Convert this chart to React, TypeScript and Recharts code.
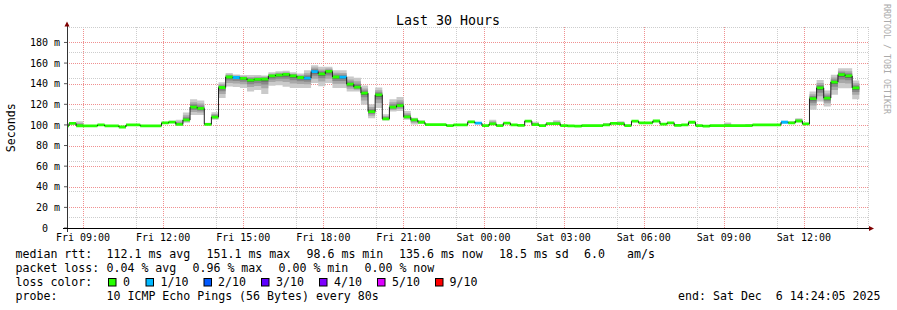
import React from 'react';
import { ComposedChart, Area, Line, XAxis, YAxis, CartesianGrid } from 'recharts';

// time in minutes since Fri 00:00
const T_START = 504; // Fri 08:24
const T_END = 2304; // Sat 14:24
const STEP_START = 508.5; // first full consolidation step boundary
const STEP_LEN = 16; // minutes per step
const Y_MAX = 195;

// median rtt per step (ms)
const median = [
  99, 101.5, 99.2, 99, 99, 100, 99, 99, 98, 100,
  100, 99, 99, 99, 102, 102.8, 100.5, 104.8, 117.3, 116,
  100.6, 107.6, 136.3, 146.5, 146, 145.2, 143.5, 144.2, 144.5, 147.5,
  148.4, 149, 147.6, 146, 145.4, 151.8, 149.6, 151.9, 146.5, 146.4,
  139.5, 136.7, 130.8, 113, 129.2, 105.9, 117.2, 118.8, 107.8, 104.9,
  102.6, 100.3, 100.3, 100.3, 99.3, 100, 100, 103, 101.7, 99.4,
  101, 99.4, 101.7, 100, 99.5, 103.7, 100.3, 99.4, 101.3, 101.2,
  99.4, 99, 98.8, 99.4, 99.4, 99.4, 100, 101.5, 101.2, 99.4,
  103.6, 102, 102, 103.8, 100.8, 102, 99.6, 100, 102.6, 99.4,
  98.8, 99.4, 99.4, 99.4, 99.4, 99.4, 99.4, 100, 100, 100,
  100, 102.6, 102, 103.8, 101, 125.5, 136, 126, 141.6, 148.8,
  147.5, 136,
];

// lowest ping per step (ms)
const smokeLo = [
  98.5, 100.5, 98.5, 98.5, 98.5, 99.2, 98.5, 98.5, 97.3, 99.2,
  99.2, 98.5, 98.5, 98.5, 101, 101.8, 99.5, 102, 109.7, 109.7,
  99.6, 104.9, 126, 137.2, 136.7, 135.8, 132.5, 134, 130, 138,
  138.5, 137, 135.8, 135.8, 135.8, 140.6, 137.5, 140.6, 135.8, 135.8,
  132.4, 132.4, 119.5, 106.5, 116.3, 104.2, 113, 113.5, 105, 100.5,
  101.5, 99.6, 99.6, 99.6, 98.6, 99.3, 99.3, 102, 100.8, 98.7,
  100, 98.7, 100.8, 99.3, 98.7, 102.8, 99.5, 98.7, 100.5, 100.4,
  98.7, 98.3, 98, 98.7, 98.7, 98.7, 99.2, 100.7, 100.4, 98.7,
  102.7, 101.2, 101.2, 103, 100, 101.2, 98.8, 99.2, 101.8, 98.7,
  98, 98.7, 98.7, 98.7, 98.7, 98.7, 98.7, 99.2, 99.2, 99.2,
  99.2, 101.8, 101.2, 102.8, 100, 114.6, 122.7, 117.8, 129.2, 135.7,
  135.7, 125,
];

// highest ping per step (ms)
const smokeHi = [
  100, 102.5, 103.5, 99.8, 99.8, 100.8, 99.8, 99.8, 99, 100.8,
  100.8, 99.8, 99.8, 99.8, 103, 104, 105, 112, 125, 123.6,
  102, 112.4, 141.5, 150.3, 149, 148.4, 148.4, 148.4, 148, 151,
  152, 152.5, 151, 150, 153, 158, 156.5, 156.5, 153, 153,
  147, 145.7, 138.2, 120, 136.3, 110.4, 125, 127, 113.6, 107,
  104.5, 101, 101, 101, 100, 100.8, 100.8, 104, 102.6, 100.2,
  105, 100.2, 102.6, 100.8, 100.3, 104.6, 103, 100.2, 102.2, 104.5,
  100.2, 99.8, 99.6, 100.2, 100.2, 100.2, 101.8, 102.4, 103.5, 100.2,
  104.5, 102.8, 102.8, 104.7, 101.6, 102.8, 100.4, 100.8, 103.5, 100.2,
  99.6, 100.2, 100.2, 102.3, 100.2, 100.2, 101, 100.8, 100.8, 100.8,
  100.8, 104, 103.5, 106.5, 102, 132.4, 143.7, 133.4, 148.6, 155,
  155, 143,
];

// lost pings (out of 10) per step
const lostPings = [
  0, 0, 0, 0, 0, 0, 0, 0, 0, 0,
  0, 0, 0, 0, 0, 0, 0, 0, 0, 0,
  0, 0, 0, 0, 1, 0, 0, 0, 0, 0,
  0, 0, 0, 0, 1, 1, 0, 0, 0, 1,
  0, 0, 0, 0, 0, 0, 0, 0, 0, 0,
  0, 0, 0, 0, 0, 0, 0, 0, 1, 0,
  0, 0, 0, 0, 0, 0, 0, 0, 0, 0,
  0, 0, 0, 0, 0, 0, 0, 0, 0, 0,
  0, 0, 0, 0, 0, 0, 0, 0, 0, 0,
  0, 0, 0, 0, 0, 0, 0, 0, 0, 0,
  0, 1, 0, 0, 0, 0, 0, 0, 0, 0,
  0, 0,
];

const lossLevels = [0, 1, 2, 3, 4, 5, 9];
const lossLabels = ['0', '1/10', '2/10', '3/10', '4/10', '5/10', '9/10'];
const lossColors = ['#26ff00', '#00b8ff', '#0059ff', '#5e00ff', '#7e00ff', '#dd00ff', '#ff0000'];

const timeTicks = [540, 720, 900, 1080, 1260, 1440, 1620, 1800, 1980, 2160];
const timeLabels = ['Fri 09:00', 'Fri 12:00', 'Fri 15:00', 'Fri 18:00', 'Fri 21:00', 'Sat 00:00', 'Sat 03:00', 'Sat 06:00', 'Sat 09:00', 'Sat 12:00'];
const hourTicks = [
  600, 660, 780, 840, 960, 1020, 1140, 1200, 1320, 1380,
  1500, 1560, 1680, 1740, 1860, 1920, 2040, 2100, 2220, 2280,
];
const valueTicks = [0, 20, 40, 60, 80, 100, 120, 140, 160, 180];
const valueLabels = ['0', '20 m', '40 m', '60 m', '80 m', '100 m', '120 m', '140 m', '160 m', '180 m'];
const minorValueTicks = [
  5, 10, 15, 25, 30, 35, 45, 50, 55, 65, 70, 75, 85, 90, 95,
  105, 110, 115, 125, 130, 135, 145, 150, 155, 165, 170, 175, 185, 190, 195,
];

const statLines = [
  [[16, 'median rtt:'], [107, '112.1 ms avg'], [207, '151.1 ms max'], [307, '98.6 ms min'], [399.5, '135.6 ms now'], [499.5, '18.5 ms sd'], [584.5, '6.0'], [627.5, 'am/s']],
  [[16, 'packet loss:'], [107, '0.04 % avg'], [193, '0.96 % max'], [279, '0.00 % min'], [365, '0.00 % now']],
];
const probeText = '10 ICMP Echo Pings (56 Bytes) every 80s';
const endText = 'end: Sat Dec  6 14:24:05 2025';

// visual styling of smoke (fraction of spread, grey)
const SMOKE_LAYERS = [1, 0.62, 0.36, 0.16];
const SMOKE_GREYS = ['#cacaca', '#a8a8a8', '#888888', '#5c5c5c'];
const BAND = 1.35;
const MAJOR_GRID = '#f09090';
const MINOR_GRID = '#cdcdcd';
const PLOT = { left: 67, right: 868, top: 27, bottom: 228 };

// each step: start row, mid row (breaks the black median so only the
// vertical transitions are drawn in black), end row
const rows: any[] = [];
for (let i = 0; i < median.length; i++) {
  const start = i === 0 ? T_START : STEP_START + (i - 1) * STEP_LEN;
  const end = STEP_START + i * STEP_LEN;
  const m = median[i];
  const lo = smokeLo[i];
  const hi = smokeHi[i];
  const base: any = {};
  SMOKE_LAYERS.forEach((f, j) => {
    base['s' + j] = [m - (m - lo) * f, m + (hi - m) * f];
  });
  lossLevels.forEach((lv, c) => {
    base['b' + c] = lostPings[i] === lv ? [m - BAND, m + BAND] : null;
  });
  rows.push({ t: start, ...base, med: m });
  rows.push({ t: (start + end) / 2, ...base, med: null });
  rows.push({ t: end, ...base, med: m });
}

const FONT = "'DejaVu Sans Mono', monospace";

// same linear mapping as the chart's axes, used for the major grid underlay
const gridX = (t: number) => Math.round(PLOT.left + ((t - T_START) / (T_END - T_START)) * (PLOT.right - PLOT.left)) + 0.5;
const gridY = (v: number) => Math.round(PLOT.bottom - (v / Y_MAX) * (PLOT.bottom - PLOT.top)) + 0.5;

const XTick = (p: any) => {
  const { x, index } = p;
  return (
    <text x={x} y={241} textAnchor="middle" fontFamily={FONT} fontSize={10} fill="#000">
      {timeLabels[index]}
    </text>
  );
};

const YTick = (p: any) => {
  const { y, index } = p;
  const label = valueLabels[index];
  return (
    <text x={60} y={y} dy={3.6} textAnchor="end" fontFamily={FONT} fontSize={10} fill="#000">
      {label.includes('m') ? label : label + '\u00a0\u00a0'}
    </text>
  );
};

export default function App() {
  const boxX = [108.5, 146, 204, 261.5, 319.5, 377.5, 435.5];
  const labX = [123, 160.5, 218, 276, 334, 392, 449.5];
  return (
    <div style={{ position: 'absolute', left: 0, top: 0, width: 897, height: 310, background: '#fff' }}>
      <svg width={897} height={310} style={{ position: 'absolute', left: 0, top: 0 }}>
        {timeTicks.map((t) => (
          <path key={'gx' + t} d={`M${gridX(t)},${PLOT.top}V${PLOT.bottom}`} stroke={MAJOR_GRID} strokeWidth={1} strokeDasharray="1 1" fill="none" />
        ))}
        {valueTicks.filter((v) => v > 0).map((v) => (
          <path key={'gy' + v} d={`M${PLOT.left},${gridY(v)}H${PLOT.right}`} stroke={MAJOR_GRID} strokeWidth={1} strokeDasharray="1 1" fill="none" />
        ))}
      </svg>
      <div style={{ position: 'absolute', left: 0, top: 0 }}>
        <ComposedChart width={897} height={310} data={rows} margin={{ top: 27, right: 29, bottom: 62, left: 0 }}>
          <XAxis xAxisId="minor" dataKey="t" type="number" domain={[T_START, T_END]} ticks={hourTicks} allowDataOverflow hide />
          <YAxis yAxisId="minor" type="number" domain={[0, Y_MAX]} ticks={minorValueTicks} allowDataOverflow hide />
          <CartesianGrid xAxisId="minor" yAxisId="minor" stroke={MINOR_GRID} strokeDasharray="1 1" shapeRendering="crispEdges" />
          <XAxis
            dataKey="t"
            type="number"
            domain={[T_START, T_END]}
            ticks={timeTicks}
            interval={0}
            allowDataOverflow
            height={20}
            axisLine={false}
            tickLine={false}
            tick={<XTick />}
          />
          <YAxis
            type="number"
            domain={[0, Y_MAX]}
            ticks={valueTicks}
            interval={0}
            allowDataOverflow
            width={67}
            axisLine={false}
            tickSize={3}
            tickMargin={4}
            tickLine={{ stroke: '#555' }}
            tick={<YTick />}
          />
          {SMOKE_LAYERS.map((_, j) => (
            <Area
              key={'s' + j}
              dataKey={'s' + j}
              type="linear"
              stroke="none"
              fill={SMOKE_GREYS[j]}
              fillOpacity={1}
              isAnimationActive={false}
              dot={false}
              activeDot={false}
            />
          ))}
          <Line dataKey="med" type="linear" stroke="#202020" strokeWidth={1} dot={false} activeDot={false} isAnimationActive={false} />
          {lossColors.map((col, c) => (
            <Area
              key={'b' + c}
              dataKey={'b' + c}
              type="linear"
              stroke="none"
              fill={col}
              fillOpacity={1}
              isAnimationActive={false}
              dot={false}
              activeDot={false}
            />
          ))}
        </ComposedChart>
      </div>
      <svg width={897} height={310} style={{ position: 'absolute', left: 0, top: 0, pointerEvents: 'none' }}>
        <line x1={67} y1={232} x2={67} y2={26} stroke="#333" strokeWidth={1} shapeRendering="crispEdges" />
        <line x1={63} y1={228.5} x2={870} y2={228.5} stroke="#000" strokeWidth={1} shapeRendering="crispEdges" />
        <polygon points="64.5,26.5 69.5,26.5 67,21.5" fill="#7f0000" />
        <polygon points="869,226 869,231 874,228.5" fill="#7f0000" />
        <text x={448} y={25} textAnchor="middle" fontFamily={FONT} fontSize={13.3} fill="#000">Last 30 Hours</text>
        <text x={15} y={127.8} textAnchor="middle" fontFamily={FONT} fontSize={11.6} fill="#000" transform="rotate(-90 15 127.8)">Seconds</text>
        <text x={884} y={4} textAnchor="start" fontFamily={FONT} fontSize={8.3} fill="#aaaaaa" transform="rotate(90 884 4)">RRDTOOL / TOBI OETIKER</text>
        {statLines.map((line, li) =>
          line.map(([x, s], k) => (
            <text key={li + '-' + k} x={(x as number) - 0.5} y={258.3 + li * 13.9} fontFamily={FONT} fontSize={11.6} fill="#000" style={{ whiteSpace: 'pre' }}>
              {s}
            </text>
          ))
        )}
        <text x={15.5} y={286} fontFamily={FONT} fontSize={11.6} fill="#000">loss color:</text>
        {lossColors.map((col, c) => (
          <g key={'lg' + c}>
            <rect x={boxX[c]} y={278.5} width={7.5} height={7.5} fill={col} stroke="#000" strokeWidth={1} />
            <text x={labX[c]} y={286} fontFamily={FONT} fontSize={11.6} fill="#000">{lossLabels[c]}</text>
          </g>
        ))}
        <text x={15.5} y={299.8} fontFamily={FONT} fontSize={11.6} fill="#000">probe:</text>
        <text x={106.5} y={299.8} fontFamily={FONT} fontSize={11.6} fill="#000">{probeText}</text>
        <text x={880.5} y={299.8} textAnchor="end" fontFamily={FONT} fontSize={11.6} fill="#000" style={{ whiteSpace: 'pre' }}>{endText}</text>
      </svg>
    </div>
  );
}
